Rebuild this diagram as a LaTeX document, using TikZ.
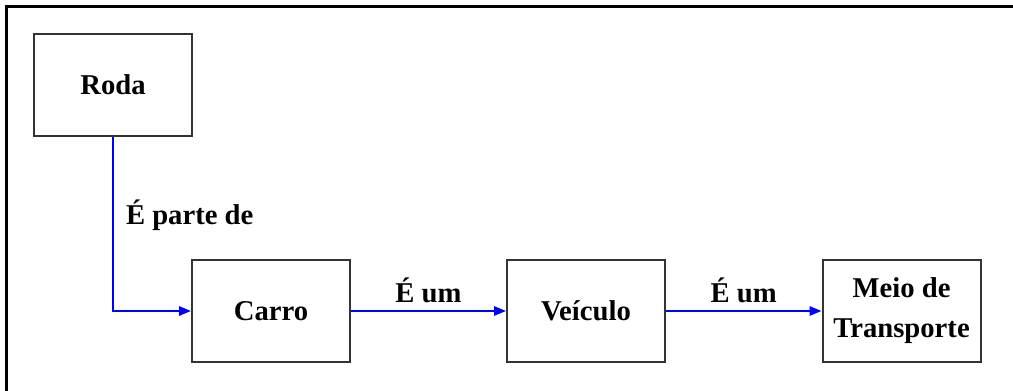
\documentclass[tikz,border=0pt]{standalone}
\usepackage{fontspec}
\setmainfont{Liberation Serif}
\usetikzlibrary{arrows.meta}
\begin{document}
\begin{tikzpicture}[x=0.75pt,y=-0.75pt,
  box/.style={draw=black!80, line width=1.5pt, minimum width=118.5pt, minimum height=76.5pt, inner sep=0pt, align=center, font=\bfseries\fontsize{21.5}{30}\selectfont},
  lbl/.style={inner sep=0pt, font=\bfseries\fontsize{21.5}{30}\selectfont},
  link/.style={draw=blue, line width=1.5pt, -{Triangle[length=9pt,width=7pt]}},
  frame/.style={line width=2.25pt, black}]
\useasboundingbox (0,0) rectangle (1013,391);
\coordinate (ftr) at (1013,6.5);
\coordinate (ftl) at (6.5,6.5);
\coordinate (fbl) at (6.5,391);
\draw[frame] (ftr) -- (ftl) -- (fbl);
\node[box] (roda) at (113,85) {Roda};
\node[box] (carro) at (271,311) {Carro};
\node[box] (veiculo) at (586,311) {Veículo};
\node[box] (meio) at (901.5,311) {Meio de\\Transporte};
\draw[link] (roda.south) |- node[lbl, pos=0.225, right=9pt] {É parte de} (carro.west);
\draw[link] (carro.east) -- node[lbl, midway, above=5pt] {É um} (veiculo.west);
\draw[link] (veiculo.east) -- node[lbl, midway, above=5pt] {É um} (meio.west);
\end{tikzpicture}
\end{document}
